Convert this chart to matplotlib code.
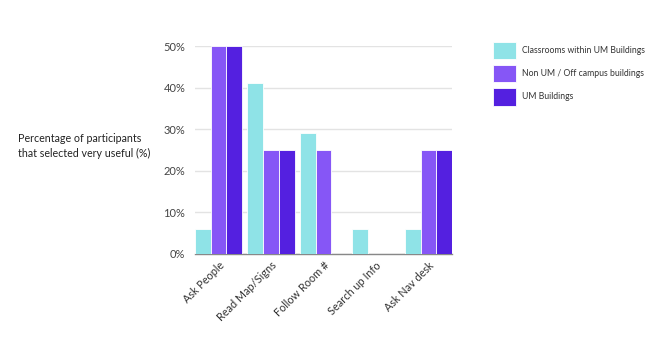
import matplotlib
matplotlib.use("Agg")
import matplotlib.pyplot as plt
import numpy as np

categories = ["Ask People", "Read Map/Signs", "Follow Room #", "Search up Info", "Ask Nav desk"]
series_names = ["Classrooms within UM Buildings", "Non UM / Off campus buildings", "UM Buildings"]
classrooms = [6, 41, 29, 6, 6]
non_um = [50, 25, 25, 0, 25]
um_buildings = [50, 25, 0, 0, 25]
colors = ["#8fe3e7", "#8656f6", "#5420e0"]
yticks = [0, 10, 20, 30, 40, 50]

plt.rcParams['font.family'] = ['Lato', 'DejaVu Sans']

fig = plt.figure(figsize=(6.69, 3.60), dpi=100)
ax = fig.add_axes([195/669, 1-254/360, (452-195)/669, (254-46)/360])

x = np.arange(len(categories))
w = 0.3
for i, (vals, name, c) in enumerate(zip([classrooms, non_um, um_buildings], series_names, colors)):
    ax.bar(x + (i - 1) * w, vals, width=w, color=c, edgecolor="#ffffff", linewidth=0.6, label=name, zorder=3)

ax.set_xlim(-0.45, len(categories) - 1 + 0.45)
ax.set_ylim(0, 50)
ax.set_yticks(yticks)
ax.set_yticklabels([f"{t}%" for t in yticks], fontsize=8, color="#444444")
ax.yaxis.grid(True, color="#e3e3e3", linewidth=1, zorder=0)
ax.set_axisbelow(True)
for s in ["left", "right", "top"]:
    ax.spines[s].set_visible(False)
ax.spines["bottom"].set_color("#888888")
ax.spines["bottom"].set_linewidth(1)
ax.tick_params(axis="y", length=0, pad=7)
ax.tick_params(axis="x", length=0, pad=4)
ax.set_xticks(x)
ax.set_xticklabels(categories, rotation=45, ha="right", rotation_mode="anchor", fontsize=7.8, color="#333333")

fig.text(18/669, 1-146/360, "Percentage of participants\nthat selected very useful (%)",
         fontsize=7.7, color="#222222", ha="left", va="center", linespacing=1.35)

fig.legend(loc="upper left", bbox_to_anchor=(485/669, 1-34/360), frameon=False,
           fontsize=6.2, handlelength=2.75, handleheight=2.75, labelspacing=0.66,
           handletextpad=0.65, labelcolor="#333333")

fig.savefig("out.png", dpi=100, facecolor="white")
